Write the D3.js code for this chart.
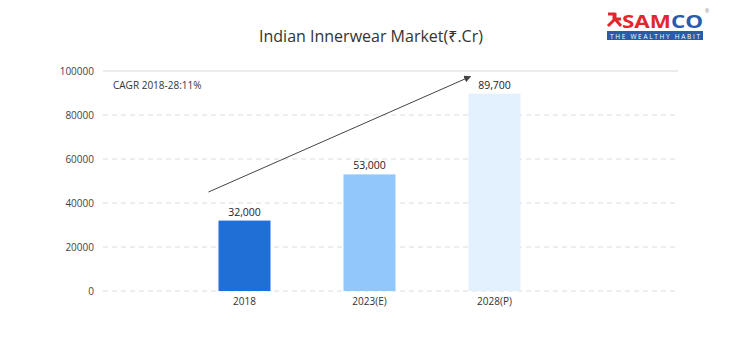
<!DOCTYPE html>
<html>
<head>
<meta charset="utf-8">
<style>
  body { margin: 0; background: #fff; }
  text { font-family: "Open Sans", "Noto Sans", sans-serif; }
</style>
<script src="https://d3js.org/d3.v7.min.js"></script>
</head>
<body>
<div id="chart"></div>
<script>
  var categories = ["2018", "2023(E)", "2028(P)"];
  var values = [32000, 53000, 89700];
  var barColors = ["#1f6fd6", "#90c8fb", "#e3f0fd"];
  var yTicks = [0, 20000, 40000, 60000, 80000, 100000];
  var cagrNote = "CAGR 2018-28:11%";

  var W = 740, H = 355;
  var svg = d3.select("#chart").append("svg").attr("width", W).attr("height", H);

  var x = d3.scaleBand().domain(categories).range([182, 557])
      .paddingInner(0.584).paddingOuter(0.292);
  var y = d3.scaleLinear().domain([0, 100000]).range([291, 71]);

  // title
  svg.append("text").attr("x", 371).attr("y", 42).attr("text-anchor", "middle")
      .attr("font-size", 16).attr("fill", "#333").text("Indian Innerwear Market(₹.Cr)");

  // grid
  var grid = svg.append("g");
  grid.selectAll("line").data(yTicks).join("line")
      .attr("x1", 103).attr("x2", 678)
      .attr("y1", d => y(d)).attr("y2", d => y(d))
      .attr("stroke", d => d == 100000 ? "#e6e6e6" : "#dcdcdc")
      .attr("stroke-width", d => d == 100000 ? 1.5 : 1)
      .attr("stroke-dasharray", d => d == 100000 ? null : "5,4");

  var yx = svg.append("g").attr("transform", "translate(97,0)")
      .call(d3.axisLeft(y).tickValues(yTicks).tickSize(0).tickFormat(d => d));
  yx.select(".domain").remove();
  yx.selectAll("text").attr("font-size", 10).attr("fill", "#444")
      .attr("font-family", "'Open Sans', sans-serif");

  var xx = svg.append("g").attr("transform", "translate(0,291)")
      .call(d3.axisBottom(x).tickSize(0).tickPadding(7));
  xx.select(".domain").remove();
  xx.selectAll("text").attr("font-size", 10).attr("fill", "#333")
      .attr("font-family", "'Open Sans', sans-serif");

  // bars
  svg.selectAll(".bar").data(values).join("rect").attr("class", "bar")
      .attr("x", (d, i) => x(categories[i]))
      .attr("width", x.bandwidth())
      .attr("y", d => y(d))
      .attr("height", d => y(0) - y(d))
      .attr("fill", (d, i) => barColors[i]);

  svg.selectAll(".val").data(values).join("text").attr("class", "val")
      .attr("x", (d, i) => x(categories[i]) + x.bandwidth() / 2)
      .attr("y", d => y(d) - 5)
      .attr("text-anchor", "middle").attr("font-size", 10.5).attr("fill", "#222")
      .text(d => d3.format(",")(d));

  svg.append("text").attr("x", 113).attr("y", 89).attr("font-size", 10)
      .attr("fill", "#333").text(cagrNote);

  // trend arrow
  svg.append("defs").append("marker").attr("id", "arr")
      .attr("viewBox", "0 0 10 10").attr("refX", 9).attr("refY", 5)
      .attr("markerWidth", 7).attr("markerHeight", 7).attr("orient", "auto")
      .append("path").attr("d", "M0,0L10,5L0,10Z").attr("fill", "#444");
  svg.append("line")
      .attr("x1", x("2018") - 10).attr("y1", y(45000))
      .attr("x2", x("2028(P)") + 2).attr("y2", y(97500))
      .attr("stroke", "#444").attr("stroke-width", 1)
      .attr("marker-end", "url(#arr)");

  // logo
  var logo = svg.append("g").attr("transform", "translate(607,12)");
  logo.append("path")
      .attr("d", "M1,2 L7,2 L7,8 M8,1 L8,7 L14,7 M7,8 L1,14 M8,7 L14,14")
      .attr("stroke", "#e3262b").attr("stroke-width", 3).attr("fill", "none");
  logo.append("text").attr("x", 15).attr("y", 15.5).attr("font-size", 17)
      .attr("font-weight", 700).attr("font-family", "Roboto, sans-serif")
      .attr("textLength", 81).attr("lengthAdjust", "spacingAndGlyphs")
      .call(t => {
        t.append("tspan").attr("fill", "#e3262b").text("SAM");
        t.append("tspan").attr("fill", "#2a5ba8").text("CO");
      });
  logo.append("text").attr("x", 98).attr("y", 1).attr("font-size", 5)
      .attr("fill", "#888").text("®");
  logo.append("rect").attr("x", 0).attr("y", 19).attr("width", 96).attr("height", 9)
      .attr("fill", "#2a5ba8");
  logo.append("text").attr("x", 48).attr("y", 26.5).attr("text-anchor", "middle")
      .attr("font-size", 6.5).attr("fill", "#fff").attr("textLength", 90)
      .attr("lengthAdjust", "spacing").text("THE WEALTHY HABIT");
</script>
</body>
</html>
